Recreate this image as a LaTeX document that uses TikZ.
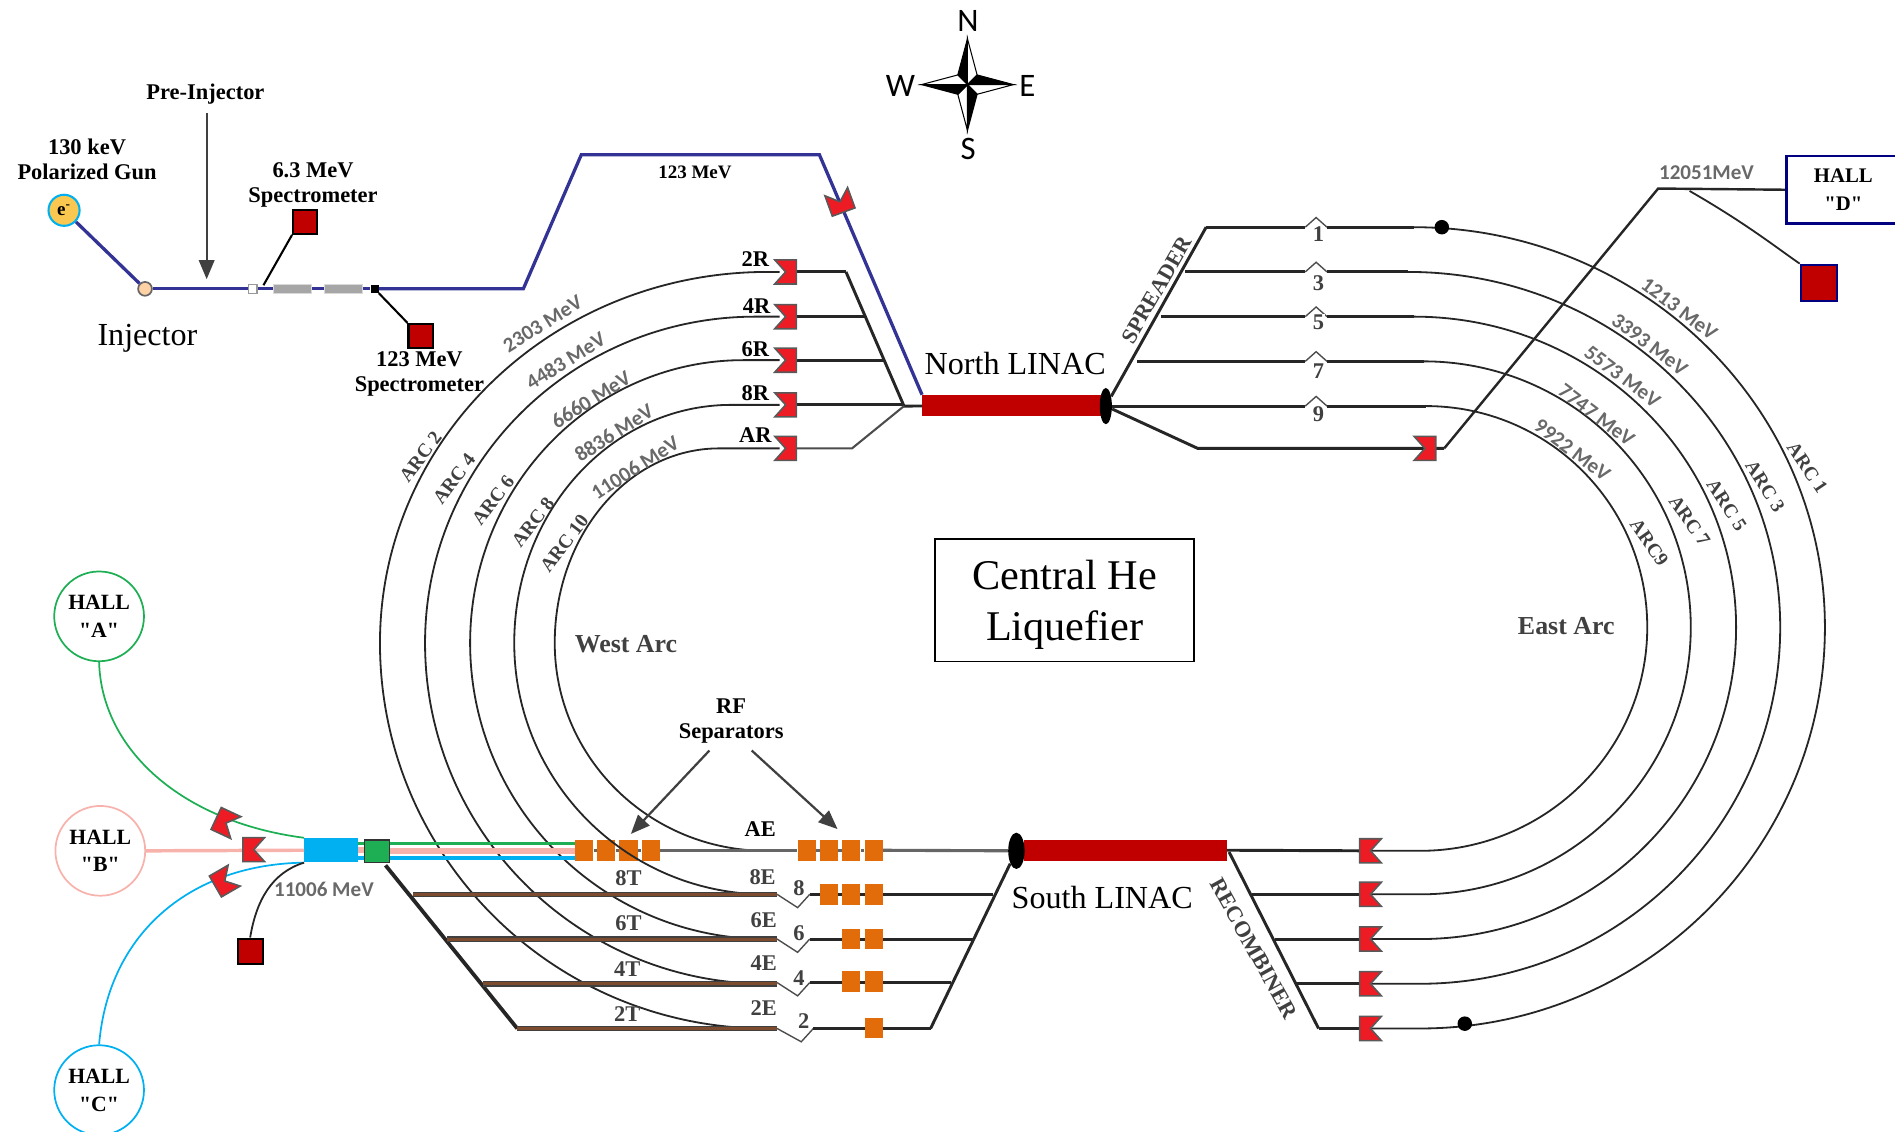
\documentclass[tikz,border=0pt]{standalone}
\usepackage{fontspec}
\setmainfont{Liberation Serif}
\newfontfamily\plainserif{Liberation Serif}
\newfontfamily\calibri{Carlito}
\usetikzlibrary{arrows.meta,shapes.geometric}

\definecolor{beamblue}{RGB}{51,51,150}
\definecolor{linacred}{RGB}{192,0,0}
\definecolor{kickred}{RGB}{237,28,36}
\definecolor{hallgreen}{RGB}{30,175,85}
\definecolor{hallpink}{RGB}{248,178,172}
\definecolor{hallcyan}{RGB}{0,176,240}
\definecolor{seporange}{RGB}{227,108,10}
\definecolor{tbrown}{RGB}{125,75,45}
\definecolor{hallnavy}{RGB}{0,0,128}
\definecolor{mevgray}{RGB}{105,105,105}
\definecolor{gunyellow}{RGB}{250,200,80}

\tikzset{
  lbl/.style={font=\fontsize{13}{14.5}\selectfont\bfseries,align=center,inner sep=0pt},
  bigtxt/.style={font=\fontsize{18.6}{22}\selectfont,inner sep=0pt},
  arclbl/.style={font=\fontsize{11.3}{13}\selectfont\bfseries,text=black!75,inner sep=0pt},
  mev/.style={font=\fontsize{12.2}{15}\selectfont\calibri\bfseries,text=mevgray,inner sep=0pt},
  arcline/.style={draw=black!85,line width=1.05pt},
  beam/.style={draw=black!85,line width=1.7pt},
  thinbeam/.style={draw=black!70,line width=.8pt},
  blueline/.style={draw=beamblue,line width=1.9pt},
  hall/.style={circle,draw,line width=1pt,minimum size=52pt,inner sep=0pt,
    font=\fontsize{12.6}{16}\selectfont\plainserif\bfseries,align=center},
  dump/.style={rectangle,draw=black,fill=linacred,line width=1.2pt,minimum size=14pt,inner sep=0pt},
  sep/.style={rectangle,fill=seporange,minimum width=10.5pt,minimum height=12pt,inner sep=0pt},
  linac/.style={rectangle,fill=linacred,minimum height=12pt,inner sep=0pt},
  magnet/.style={rectangle,draw=black!15,fill=black!35,line width=.7pt,minimum width=22pt,minimum height=5pt,inner sep=0pt},
  tline/.style={draw=black!75,double=tbrown,double distance=1.8pt,line width=.7pt},
  redarrow/.style={-{Triangle[length=11pt,width=9pt]},draw=black!75,line width=1.3pt},
  kicker/.pic={
    \draw[fill=kickred,draw=black!65,line width=.9pt] (9,-10) -- (9,10) -- (-9,10) -- (0,0) -- (-9,-10) -- cycle;
  }
}

\begin{document}
\begin{tikzpicture}[x=.7pt,y=-.7pt]
\useasboundingbox (0,0) rectangle (1568,936);

\node[linac,minimum width=104pt] (nlinac) at (837.5,335.5) {};
\node[linac,minimum width=117.5pt] (slinac) at (931,703.5) {};
\node[ellipse,fill=black,minimum width=7pt,minimum height=21pt,inner sep=0pt] (nend) at (915,336) {};
\node[ellipse,fill=black,minimum width=9.5pt,minimum height=21pt,inner sep=0pt] (send) at (841,704) {};

\node[circle,draw=hallcyan,fill=gunyellow,line width=1.2pt,minimum size=18pt,inner sep=0pt,font=\fontsize{11}{11}\selectfont\bfseries] (gun) at (53,174) {e\textsuperscript{-}};
\node[circle,draw=black!60,fill=orange!35,line width=1pt,minimum size=8pt,inner sep=0pt] (inj) at (120,239) {};
\node[rectangle,draw=black!40,fill=white,line width=.7pt,minimum width=5pt,minimum height=5pt,inner sep=0pt] (mag1) at (209,239) {};
\node[magnet] (mag2) at (242,239) {};
\node[magnet] (mag3) at (284,239) {};
\node[rectangle,fill=black,minimum size=4.5pt,inner sep=0pt] (mag4) at (310,239) {};
\node[dump] (spec1) at (252.5,183.5) {};
\node[dump] (spec2) at (348,278) {};
\node[dump,draw=hallnavy,minimum size=21pt] (specD) at (1505,234) {};
\node[dump,minimum size=14.5pt] (specA) at (207,787) {};

\node[hall,draw=hallgreen] (hallA) at (82,510) {HALL\\"A"};
\node[hall,draw=hallpink] (hallB) at (83,704) {HALL\\"B"};
\node[hall,draw=hallcyan] (hallC) at (82,902) {HALL\\"C"};
\node[rectangle,draw=hallnavy,line width=1.5pt,minimum width=66pt,minimum height=39pt,inner sep=0pt,anchor=west,
  font=\fontsize{12}{16}\selectfont\plainserif\bfseries,align=center] (hallD) at (1477,157) {HALL\\"D"};

\node[rectangle,fill=hallcyan,minimum width=31pt,minimum height=14pt,inner sep=0pt] (cbox) at (274,703.5) {};
\node[rectangle,draw=black!80,fill=hallgreen,line width=.9pt,minimum width=14.5pt,minimum height=13pt,inner sep=0pt] (gbox) at (312,704.5) {};

\foreach \n/\x in {1/483.5,2/501.5,3/520,4/538.5}
  \node[sep] (sw\n) at (\x,703.5) {};
\foreach \n/\x in {1/667.5,2/686,3/704.5,4/723}
  \node[sep] (se\n) at (\x,703.5) {};

% injector and 123 MeV line
\draw[blueline] (gun) -- (inj);
\draw[blueline] (inj) -- (mag1);
\draw[blueline] (mag1) -- (mag2);
\draw[blueline] (mag2) -- (mag3);
\draw[blueline] (mag3) -- (mag4);
\draw[blueline] (mag4) -- (433,239) -- (481,128) -- (678,128) -- (nlinac.north west);
\draw[black,line width=1.2pt] (218,236) -- (spec1.south west);
\draw[black,line width=1.2pt] (mag4) -- (spec2.north west);

% west arcs
\foreach \yt/\yb/\xl/\cx in {225/851/314.4/635,262/814/351.7/625,298/777/389/615,335/740/425.5/605,371/704/459/595}
  \draw[arcline] (645,\yt) -- (\cx,\yt) arc[start angle=-90,end angle=-180,x radius={\cx-\xl},y radius={532-\yt}]
    arc[start angle=180,end angle=90,x radius={634-\xl},y radius={\yb-532}] -- (643,\yb);

\draw[beam] (700,225) -- (748,336) -- (nlinac);
\foreach \x/\y in {700/225,716/262,731/298,748/335}
  \draw[beam] (650,\y) -- (\x,\y);
\draw[draw=black!70,line width=1.2pt] (650,371) -- (705,371) -- (748,336);

% east arcs
\foreach \xs/\yt/\cx in {998/188/1170,980.6/225/1165,961/262/1170,941/299/1178,925/336/1180} {
  \draw[beam] (\xs,\yt) -- (1080,\yt);
  \draw[thinbeam] (1080,\yt) -- (1089,{\yt-8}) -- (1098,\yt);
  \draw[beam] (1098,\yt) -- (\cx,\yt);
}
\foreach \yt/\yb/\xe/\cx in {188/851/1510/1170,225/814/1473/1165,262/777/1436.5/1170,299/740/1399/1178,336/704/1363/1180}
  \draw[arcline] (\cx,\yt) arc[start angle=-90,end angle=0,x radius={\xe-\cx},y radius={519-\yt}]
    arc[start angle=0,end angle=90,x radius={\xe-1175},y radius={\yb-519}] -- (1133,\yb);

\draw[beam] (nend) -- (998,188);
\draw[beam] (nend) -- (925,336);
\draw[beam] (nend) -- (991,371) -- (1195,371);
\draw[line width=1.4pt,draw=black!85] (1195,371) -- (1372,156) -- (hallD.west);
\draw[arcline] (1398,158) .. controls (1445,185) and (1470,205) .. (specD.north west);
\fill[black] (1193,188) circle [radius=6];
\fill[black] (1212,847) circle [radius=6];

% extraction to the halls
\draw[draw=hallgreen,line width=1pt] (hallA.south) .. controls (84,620) and (150,680) .. (cbox.north west);
\draw[draw=hallpink,line width=2pt] (hallB.east) -- (cbox.west);
\draw[draw=hallcyan,line width=1pt] (hallC.north) .. controls (90,770) and (160,715) .. (cbox.south west);
\draw[arcline] (cbox.south west) .. controls (225,722) and (212,745) .. (specA.north);
\draw[draw=hallgreen,line width=2.2pt] (cbox.east |- 0,698) -- (gbox.west |- 0,698);
\draw[draw=hallpink,line width=3.4pt] (cbox.east) -- (gbox.west |- cbox.east);
\draw[draw=hallcyan,line width=2pt] (cbox.east |- 0,710) -- (gbox.west |- 0,710);
\draw[draw=hallgreen,line width=2.2pt] (gbox.east |- 0,698) -- (sw1.west |- 0,698);
\draw[draw=hallpink,line width=3.4pt] (gbox.east |- 0,704) -- (sw1.west |- 0,704);
\draw[draw=hallcyan,line width=2pt] (gbox.east |- 0,710) -- (sw1.west |- 0,710);

% south side
\draw[draw=black!60,line width=1.8pt] (sw1) -- (sw2);
\draw[draw=black!60,line width=1.8pt] (sw2) -- (sw3);
\draw[draw=black!60,line width=1.8pt] (sw3) -- (sw4);
\draw[draw=black!60,line width=1.8pt] (sw4) -- (se1);
\draw[draw=black!60,line width=1.8pt] (se1) -- (se2);
\draw[draw=black!60,line width=1.8pt] (se2) -- (se3);
\draw[draw=black!60,line width=1.8pt] (se3) -- (se4);
\draw[draw=black!60,line width=1.8pt] (se4) -- (send);
\draw[line width=2.2pt,draw=black!85] (319,716) -- (428,851);
\foreach \x/\y in {342/740,370/777,400/814,428/851}
  \draw[tline] (\x,\y) -- (643,\y);
\foreach \y/\xe/\xd in {740/822/660,777/805/660,813/787/660,851/770/663} {
  \draw[thinbeam] (643,\y) -- (\xd,{\y+11}) -- ({\xd+10},\y);
  \draw[beam] ({\xd+10},\y) -- (\xe,\y);
}
\draw[beam] (send) -- (770,851);
\foreach \x/\y in {686/740,704.5/740,723/740,704.5/777,723/777,704.5/812,723/812,723/850.5}
  \node[sep] at (\x,\y) {};

% recombiner
\draw[beam] (slinac.east) -- (1133,704);
\draw[beam] (1017,705) -- (1091,851);
\foreach \x/\y in {1036/740,1055/777,1073/814,1091/851}
  \draw[beam] (\x,\y) -- (1133,\y);

% kickers
\foreach \y in {225,262,298,335,371}
  \pic at (650,\y) {kicker};
\pic at (1179,371) {kicker};
\pic[rotate=-70] at (695,167) {kicker};
\foreach \y in {704,740,777,814,851}
  \pic[rotate=180] at (1134,\y) {kicker};
\pic[rotate=180] at (210,703) {kicker};
\pic[rotate=155] at (187,681) {kicker};
\pic[rotate=210] at (186,729) {kicker};

% separator and injector arrows
\node[lbl] (rftxt) at (605,597) {RF\\Separators};
\coordinate (rfL) at (587,621);
\coordinate (rfR) at (622,621);
\coordinate (sepL) at (522,690);
\coordinate (sepR) at (693,686);
\draw[redarrow] (rfL) -- (sepL);
\draw[redarrow] (rfR) -- (sepR);
\node[lbl] (preinj) at (170,78) {Pre-Injector};
\coordinate (preEnd) at (171,231);
\draw[redarrow,line width=1pt,shorten <=5pt] (preinj.south -| preEnd) -- (preEnd);

% compass
\foreach \a in {0,-90,-180,-270} {
  \begin{scope}[shift={(800.5,70)},rotate=\a]
    \draw[fill=black,line width=.6pt] (0,-38) -- (-8,-8) -- (0,0) -- cycle;
    \draw[fill=white,line width=.6pt] (0,-38) -- (8,-8) -- (0,0) -- cycle;
  \end{scope}
}
\node[font=\fontsize{19}{19}\selectfont\calibri,inner sep=0pt] (cN) at (801,17) {N};
\node[font=\fontsize{19}{19}\selectfont\calibri,inner sep=0pt] (cS) at (801,123) {S};
\node[font=\fontsize{19}{19}\selectfont\calibri,inner sep=0pt] (cW) at (745,71) {W};
\node[font=\fontsize{19}{19}\selectfont\calibri,inner sep=0pt] (cE) at (850,71) {E};

% labels
\node[lbl] (guntxt) at (72,132) {130 keV\\Polarized Gun};
\node[lbl] (sp1txt) at (259,153) {6.3 MeV\\Spectrometer};
\node[lbl] (sp2txt) at (347,309.5) {123 MeV\\Spectrometer};
\node[lbl,font=\fontsize{11}{13}\selectfont\bfseries] (e123) at (575,143) {123 MeV};
\node[bigtxt] (injtxt) at (122,280) {Injector};
\node[bigtxt] (ntxt) at (840,301) {North LINAC};
\node[bigtxt] (stxt) at (912,743) {South LINAC};
\node[rectangle,draw=black,line width=.9pt,minimum width=150pt,minimum height=71pt,inner sep=0pt] (helium) at (881,496.5) {};
\node[align=center,inner sep=0pt,font=\fontsize{24.5}{29.4}\selectfont] (hetxt) at (881,500.5) {Central He\\Liquefier};
\node[font=\fontsize{15}{15}\selectfont\bfseries,text=black!75,inner sep=0pt] (wtxt) at (518,533) {West Arc};
\node[font=\fontsize{15}{15}\selectfont\bfseries,text=black!75,inner sep=0pt] (etxt) at (1296,518) {East Arc};
\node[mev] (m11006b) at (268,736) {11006 MeV};
\node[mev] (m12051) at (1412,143) {12051MeV};

\node[arclbl,rotate=60,font=\fontsize{12.8}{15}\selectfont\bfseries] (spr) at (957,240) {SPREADER};
\node[arclbl,rotate=-61,font=\fontsize{13}{15}\selectfont\bfseries] (rec) at (1037.5,785) {RECOMBINER};

\node[arclbl,rotate=53] at (348,378) {ARC 2};
\node[arclbl,rotate=53] at (375.7,396.4) {ARC 4};
\node[arclbl,rotate=53] at (408,414) {ARC 6};
\node[arclbl,rotate=53] at (441,432) {ARC 8};
\node[arclbl,rotate=53] at (467,449.6) {ARC 10};
\node[arclbl,rotate=-56] at (1495.5,387) {ARC 1};
\node[arclbl,rotate=-58] at (1460.5,402.7) {ARC 3};
\node[arclbl,rotate=-57] at (1428.8,418) {ARC 5};
\node[arclbl,rotate=-55] at (1398,431) {ARC 7};
\node[arclbl,rotate=-55] at (1364.7,449) {ARC9};

\node[mev,rotate=32] at (449,268) {2303 MeV};
\node[mev,rotate=32] at (468,298.5) {4483 MeV};
\node[mev,rotate=32] at (489,330.5) {6660 MeV};
\node[mev,rotate=33] at (508,358) {8836 MeV};
\node[mev,rotate=33] at (525.5,387) {11006 MeV};
\node[mev,rotate=-37] at (1389.5,255.5) {1213 MeV};
\node[mev,rotate=-37] at (1365,285) {3393 MeV};
\node[mev,rotate=-37] at (1342.5,311.5) {5573 MeV};
\node[mev,rotate=-37] at (1321,343.5) {7747 MeV};
\node[mev,rotate=-37] at (1301,372.5) {9922 MeV};

\foreach \t/\x/\y in {2R/625/214,4R/626/253,6R/625/289,8R/625/325,AR/625/360,AE/629/686}
  \node[lbl] at (\x,\y) {\t};
\foreach \t/\x/\y in {8E/631/726,6E/632/761,4E/632/797,2E/632/834,8T/520/727,6T/520/764,4T/519/802,2T/519/839}
  \node[lbl,text=black!75] at (\x,\y) {\t};
\foreach \t/\x/\y in {1/1091/194,3/1091/234,5/1091/267,7/1091/307,9/1091/343,8/661/735,6/661/772,4/661/809,2/665/845}
  \node[lbl,text=black!75,fill=white,inner sep=.5pt] at (\x,\y) {\t};
\end{tikzpicture}
\end{document}
